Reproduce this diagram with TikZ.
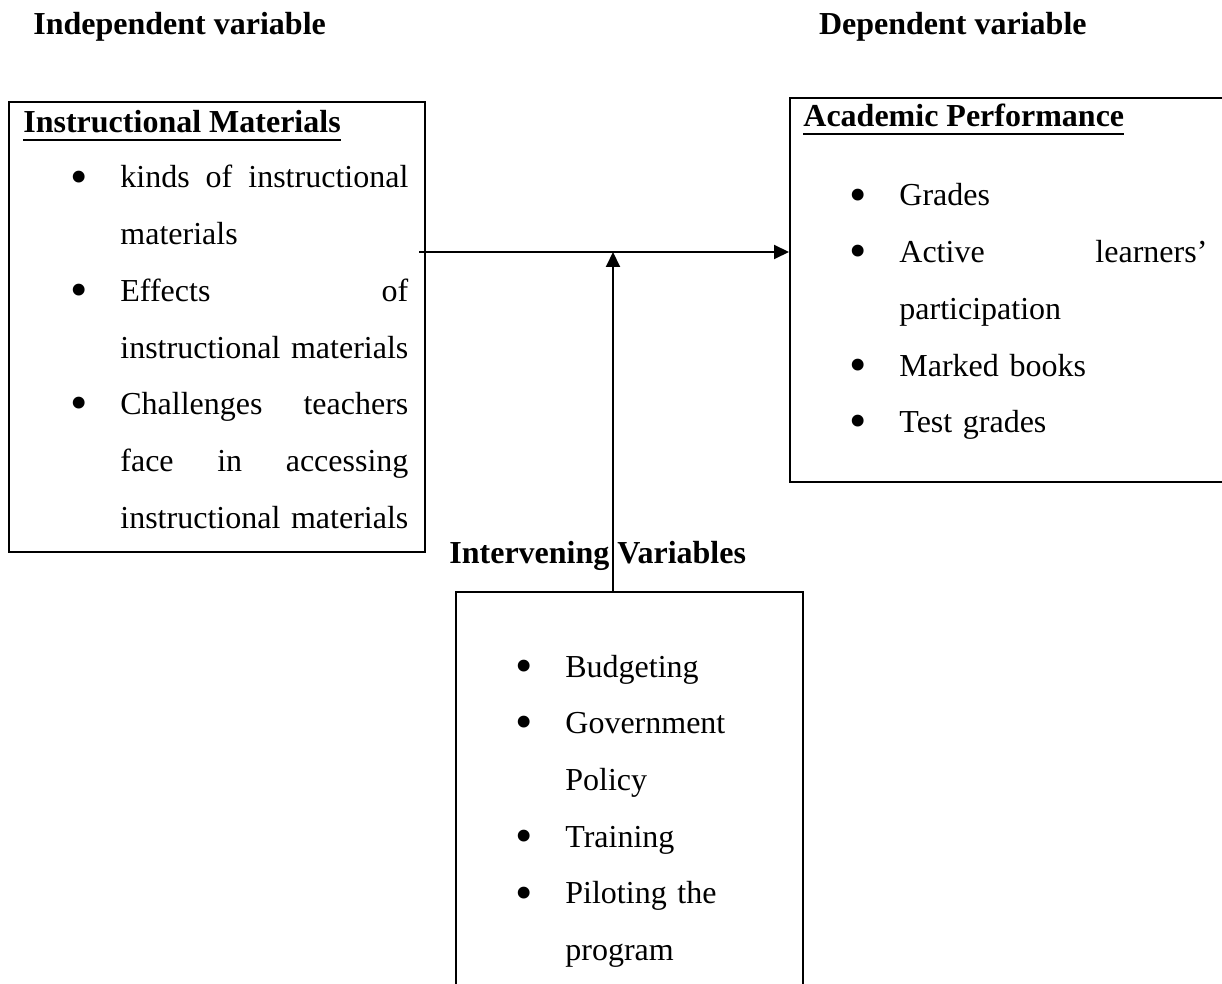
\documentclass[tikz,border=0pt]{standalone}
\usepackage{fontspec}
\setmainfont{Liberation Serif}
\usetikzlibrary{arrows.meta}

\newcommand{\bul}{\leavevmode\llap{\raisebox{-2.6pt}{\scalebox{1.55}{\textbullet}}\hspace{16.5pt}}}
\newcommand{\ulhead}[1]{\setbox0\hbox{#1}\rlap{\rule[-4pt]{\wd0}{1.2pt}}\box0}

\begin{document}
\begin{tikzpicture}[x=0.5pt,y=-0.5pt,
  box/.style={draw=black,line width=1pt,anchor=north west,inner sep=0pt},
  lst/.style={anchor=base west,inner sep=0pt,align=left,font=\fontsize{16pt}{28.35pt}\selectfont},
  head/.style={inner sep=0pt,font=\fontsize{16pt}{19pt}\selectfont\bfseries},
  arr/.style={draw=black,line width=1pt,-{Triangle[length=7.5pt,width=7pt]}}]

\useasboundingbox (0,0) rectangle (1222,984);

\node[head,anchor=base west] (indeptitle) at (33,35) {Independent variable};
\node[head,anchor=base east] (deptitle) at (1087,35) {Dependent variable};

%independent
\node[box,minimum width=208pt,minimum height=225pt] (indep) at (8,101) {};
\node[head,anchor=base west] (indephead) at (23,133) {\ulhead{Instructional Materials}};
\node[lst,text width=144pt] (indeplist) at (120,188) {\bul kinds\hfill of\hfill instructional\\
materials\\
\bul Effects\hfill of\\
instructional materials\\
\bul Challenges\hfill teachers\\
face\hfill in\hfill accessing\\
instructional materials};

%dependent
\node[box,minimum width=226pt,minimum height=192pt] (dep) at (789,97) {};
\node[head,anchor=base west] (dephead) at (803,127) {\ulhead{Academic Performance}};
\node[lst,text width=154pt] (deplist) at (899,206) {\bul Grades\\
\bul Active\hfill learners'\\
participation\\
\bul Marked books\\
\bul Test grades};

%intervening
\node[box,minimum width=173.5pt,minimum height=206pt] (interv) at (455,591) {};
\node[head,anchor=base west] (intervhead) at (449,563) {Intervening Variables};
\node[lst,text width=110pt] (intervlist) at (565,677) {\bul Budgeting\\
\bul Government\\
Policy\\
\bul Training\\
\bul Piloting the\\
program};

%arrows
\coordinate (start) at (419,252);
\coordinate (meet) at (613,252);
\path[arr] (start) -- (start -| dep.west);
\path[arr] (meet |- interv.north) -- (meet);

\end{tikzpicture}
\end{document}
